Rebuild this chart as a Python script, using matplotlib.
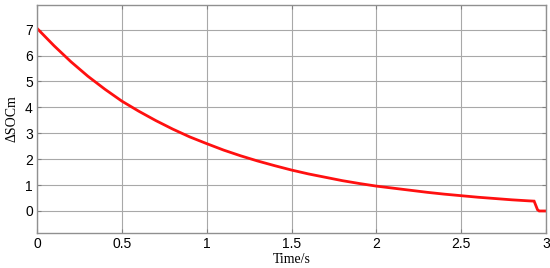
import matplotlib
matplotlib.use("Agg")
import matplotlib.pyplot as plt

time_s = [0.0, 0.1, 0.2, 0.3, 0.4, 0.5, 0.6, 0.7, 0.8, 0.9, 1.0, 1.1, 1.2, 1.3, 1.4,
          1.5, 1.6, 1.7, 1.8, 1.9, 2.0, 2.1, 2.2, 2.3, 2.4, 2.5, 2.6, 2.7, 2.8, 2.9,
          2.93, 2.95, 2.96, 3.0]
dsocm = [7.05, 6.38, 5.76, 5.20, 4.70, 4.24, 3.85, 3.49, 3.16, 2.86, 2.60, 2.35, 2.13,
         1.93, 1.75, 1.58, 1.43, 1.30, 1.17, 1.06, 0.96, 0.88, 0.80, 0.72, 0.65, 0.59,
         0.53, 0.48, 0.43, 0.39, 0.38, 0.05, 0.0, 0.0]

xticks = [0, 0.5, 1, 1.5, 2, 2.5, 3]
xticklabels = ["0", "0.5", "1", "1.5", "2", "2.5", "3"]
yticks = [0, 1, 2, 3, 4, 5, 6, 7]

fig = plt.figure(figsize=(5.5, 2.68), dpi=100)
ax = fig.add_axes([0.0673, 0.1306, 0.9254, 0.8507])
ax.plot(time_s, dsocm, color="#ff1010", linewidth=2.0, solid_joinstyle="miter")
ax.set_xlim(0, 3)
ax.set_ylim(-0.85, 7.95)
ax.set_xticks(xticks)
ax.set_xticklabels(xticklabels, fontfamily="Liberation Sans", fontsize=10)
ax.set_yticks(yticks)
ax.set_yticklabels([str(v) for v in yticks], fontfamily="Liberation Sans", fontsize=10)
ax.grid(True, color="#a8a8a8", linewidth=0.8)
ax.tick_params(direction="in", length=3, color="#808080", top=True, right=True, pad=3)
for s in ax.spines.values():
    s.set_color("#909090")
    s.set_linewidth(1.0)
ax.set_xlabel("Time/s", fontfamily="Liberation Serif", fontsize=10, labelpad=1)
ax.set_ylabel("ΔSOCm", fontfamily="Liberation Serif", fontsize=10, labelpad=5)
fig.savefig("out.png", dpi=100)
